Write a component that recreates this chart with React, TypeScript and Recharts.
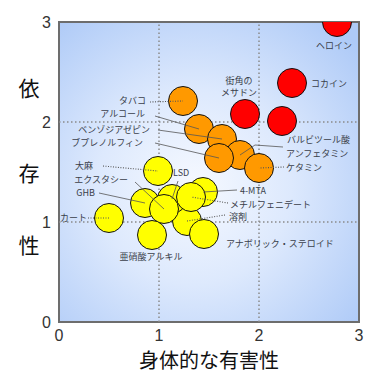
import React from 'react';
import {
    ScatterChart,
    Scatter,
    XAxis,
    YAxis,
    ReferenceArea,
    ReferenceLine,
    Label,
} from 'recharts';

// 身体的な有害性 (x) と 依存性 (y) — 3グループ
const redNames = ['ヘロイン', 'コカイン', 'バルビツール酸', '街角のメサドン'];
const redHarm = [2.78, 2.33, 2.23, 1.86];
const redDep = [3.0, 2.39, 2.01, 2.08];

const orangeNames = ['タバコ', 'アルコール', 'ベンゾジアゼピン', 'アンフェタミン', 'ブプレノルフィン', 'ケタミン'];
const orangeHarm = [1.24, 1.4, 1.63, 1.81, 1.6, 2.0];
const orangeDep = [2.21, 1.93, 1.83, 1.67, 1.64, 1.54];

const yellowNames = [
    '大麻', '4-MTA', '溶剤', 'LSD', 'メチルフェニデート', 'GHB',
    'エクスタシー', 'カート', '亜硝酸アルキル', 'アナボリック・ステロイド',
];
const yellowHarm = [0.99, 1.44, 1.28, 1.13, 1.32, 0.86, 1.05, 0.5, 0.93, 1.45];
const yellowDep = [1.51, 1.3, 1.01, 1.23, 1.25, 1.19, 1.13, 1.04, 0.87, 0.88];

const axisTicks = [0, 1, 2, 3];
const gridValues = [1, 2];
const xTitle = '身体的な有害性';
const yTitle = ['依', '存', '性'];

const toPoints = (names: string[], harm: number[], dep: number[]) =>
    names.map((name, i) => ({ name, harm: harm[i], dep: dep[i] }));

const redData = toPoints(redNames, redHarm, redDep);
const orangeData = toPoints(orangeNames, orangeHarm, orangeDep);
const yellowData = toPoints(yellowNames, yellowHarm, yellowDep);
const allData = [...redData, ...orangeData, ...yellowData];

type LabelSpec = {
    dx: number;
    dy: number;
    anchor: 'start' | 'middle' | 'end';
    from?: [number, number];
    via?: [number, number];
    dotted?: boolean;
    lines?: string[];
};

// ラベル位置（バブル中心からのオフセット px）
const labelLayout: Record<string, LabelSpec> = {
    'ヘロイン': { dx: -3, dy: 23, anchor: 'middle' },
    'コカイン': { dx: 19, dy: 0, anchor: 'start' },
    'バルビツール酸': { dx: 5, dy: 18, anchor: 'start' },
    '街角のメサドン': { dx: -6, dy: -34, anchor: 'middle', lines: ['街角の', 'メサドン'] },
    'タバコ': { dx: -37, dy: -1, anchor: 'end', from: [-33, 1], dotted: true },
    'アルコール': { dx: -54, dy: -16, anchor: 'end', from: [-44, -13] },
    'ベンゾジアゼピン': { dx: -72, dy: -10, anchor: 'end', from: [-64, -9] },
    'ブプレノルフィン': { dx: -76, dy: -16, anchor: 'end', from: [-64, -15] },
    'アンフェタミン': { dx: 46, dy: -2, anchor: 'start', from: [43, -8], via: [15, -10] },
    'ケタミン': { dx: 27, dy: -1, anchor: 'start', from: [25, -1], dotted: true },
    '大麻': { dx: -65, dy: -6, anchor: 'end', from: [-55, -5], dotted: true },
    'LSD': { dx: 1, dy: -27, anchor: 'start', from: [6, -18] },
    'エクスタシー': { dx: -36, dy: -30, anchor: 'end', from: [-29, -27] },
    'GHB': { dx: -50, dy: -11, anchor: 'end', from: [-46, -10] },
    'カート': { dx: -22, dy: -1, anchor: 'end', from: [-21, 0], dotted: true },
    '亜硝酸アルキル': { dx: -1, dy: 21, anchor: 'middle' },
    '4-MTA': { dx: 37, dy: -2, anchor: 'start', from: [34, -2] },
    'メチルフェニデート': { dx: 39, dy: 7, anchor: 'start', from: [37, 6], dotted: true },
    '溶剤': { dx: 42, dy: -5, anchor: 'start', from: [38, -6], dotted: true },
    'アナボリック・ステロイド': { dx: 22, dy: 9, anchor: 'start' },
};

const jpFont = '"Noto Sans CJK JP", "Noto Sans", sans-serif';

const bubble = (fill: string) => (props: any) => (
    <circle cx={props.cx} cy={props.cy} r={14.5} fill={fill} stroke="#111" strokeWidth={1} />
);

const DrugLabel = (props: any) => {
    const { cx, cy, payload } = props;
    const spec = labelLayout[payload.name];
    if (!spec) return <g />;
    const lines = spec.lines ?? [payload.name];
    let leader = null;
    if (spec.from) {
        const pts = [[cx + spec.from[0], cy + spec.from[1]]];
        if (spec.via) pts.push([cx + spec.via[0], cy + spec.via[1]]);
        pts.push([cx, cy]);
        leader = (
            <polyline
                points={pts.map(p => p.join(',')).join(' ')}
                fill="none"
                stroke="#555"
                strokeWidth={spec.dotted ? 1.1 : 0.8}
                strokeDasharray={spec.dotted ? '1 1.5' : undefined}
            />
        );
    }
    return (
        <g>
            {leader}
            {lines.map((t, i) => (
                <text
                    key={t}
                    x={cx + spec.dx}
                    y={cy + spec.dy + i * 12}
                    textAnchor={spec.anchor}
                    dominantBaseline="central"
                    fontSize={9}
                    fontFamily={jpFont}
                    fill="#3a3f4a"
                >
                    {t}
                </text>
            ))}
        </g>
    );
};

const YTitle = (props: any) => {
    const vb = props.viewBox || { x: 0, y: 22 };
    const offs = [65, 150, 222];
    return (
        <g>
            {yTitle.map((c, i) => (
                <text
                    key={c}
                    x={29}
                    y={vb.y + offs[i]}
                    textAnchor="middle"
                    dominantBaseline="central"
                    fontSize={21}
                    fontFamily={jpFont}
                    fill="#111"
                >
                    {c}
                </text>
            ))}
        </g>
    );
};

const tickStyle = { fontSize: 16, fill: '#333', fontFamily: '"Liberation Sans", Arial, sans-serif' };

export default function App() {
    return (
        <div style={{ position: 'absolute', left: 0, top: 0, width: 386, height: 386, background: '#fff' }}>
            <svg width={0} height={0} style={{ position: 'absolute' }}>
                <defs>
                    <radialGradient id="bgGrad" cx="0.45" cy="0.55" r="0.72">
                        <stop offset="0%" stopColor="#f6f9ff" />
                        <stop offset="45%" stopColor="#dde9fd" />
                        <stop offset="100%" stopColor="#aecaf7" />
                    </radialGradient>
                </defs>
            </svg>
            <ScatterChart width={386} height={386} margin={{ top: 22, right: 27, left: 0, bottom: 0 }}>
                <XAxis
                    type="number"
                    dataKey="harm"
                    domain={[0, 3]}
                    ticks={axisTicks}
                    axisLine={false}
                    tickLine={false}
                    tick={tickStyle}
                    height={64}
                    allowDataOverflow
                >
                    <Label
                        value={xTitle}
                        position="insideBottom"
                        offset={18}
                        style={{ fontSize: 20, fill: '#111', fontFamily: jpFont }}
                    />
                </XAxis>
                <YAxis
                    type="number"
                    dataKey="dep"
                    domain={[0, 3]}
                    ticks={axisTicks}
                    axisLine={false}
                    tickLine={false}
                    tick={tickStyle}
                    width={59}
                    allowDataOverflow
                >
                    <Label content={YTitle} />
                </YAxis>
                <ReferenceArea
                    x1={0}
                    x2={3}
                    y1={0}
                    y2={3}
                    fill="url(#bgGrad)"
                    fillOpacity={1}
                    stroke="#6d6d6d"
                    strokeWidth={2}
                />
                {gridValues.map(v => (
                    <ReferenceLine key={'x' + v} x={v} stroke="#8a8a8a" strokeWidth={1.5} strokeDasharray="1.5 2.5" />
                ))}
                {gridValues.map(v => (
                    <ReferenceLine key={'y' + v} y={v} stroke="#8a8a8a" strokeWidth={1.5} strokeDasharray="1.5 2.5" />
                ))}
                <Scatter data={redData} shape={bubble('#ff0000')} isAnimationActive={false} />
                <Scatter data={orangeData} shape={bubble('#ff9900')} isAnimationActive={false} />
                <Scatter data={yellowData} shape={bubble('#ffff00')} isAnimationActive={false} />
                <Scatter data={allData} shape={DrugLabel} isAnimationActive={false} />
            </ScatterChart>
        </div>
    );
}
